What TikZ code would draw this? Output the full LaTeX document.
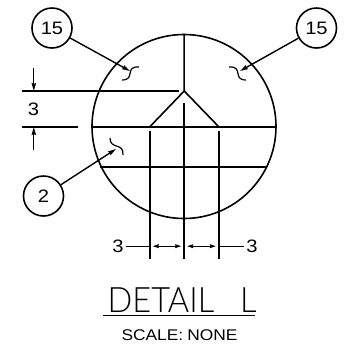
\documentclass[tikz,border=0pt]{standalone}
\usepackage{fontspec}
\setmainfont{Liberation Sans}[FakeStretch=1.12]
\newfontfamily\thinfont{Lato Light}[FakeStretch=0.93]
\usetikzlibrary{arrows.meta}
\tikzset{
  ln/.style={line width=1.6pt,line cap=butt},
  arr/.style={line width=1.4pt,-{Stealth[length=8pt,width=4.4pt,inset=1pt]}},
  arrs/.style={line width=1pt,{Stealth[length=6pt,width=3.8pt,inset=0.5pt]}-{Stealth[length=6pt,width=3.8pt,inset=0.5pt]},shorten <=3pt,shorten >=3pt},
  balloon/.style={circle,draw,line width=1.6pt,minimum size=40pt,inner sep=0pt,font=\fontsize{18}{18}\selectfont},
  dimtxt/.style={inner sep=0pt,font=\fontsize{18}{18}\selectfont},
  squig/.style={line width=1.2pt}
}
\begin{document}
\begin{tikzpicture}[x=1pt,y=-1pt]
\useasboundingbox (0,0) rectangle (360,360);
\node[circle,draw,ln,minimum size=184pt,inner sep=0pt] (ring) at (184,126.5) {};
% coordinates
\coordinate (apex) at (184.2,91);
\coordinate (wl) at (149.8,126.8);
\coordinate (wr) at (218.8,126.8);
\coordinate (top) at (184.2,34);
\coordinate (h1l) at (22,91.2);
\coordinate (h1r) at (179,91.2);
\coordinate (h2l) at (22,126.8);
\coordinate (h2m) at (78,126.8);
\coordinate (h2a) at (92,126.8);
\coordinate (h2b) at (276,126.8);
\coordinate (h3a) at (100,166.8);
\coordinate (h3b) at (267,166.8);
\coordinate (v1a) at (149.8,131);
\coordinate (v1b) at (149.8,259);
\coordinate (v2a) at (184.2,103);
\coordinate (v2b) at (184.2,259);
\coordinate (v3a) at (218.8,131);
\coordinate (v3b) at (218.8,259);
\draw[ln] (top) -- (apex) (wl) -- (apex) -- (wr);
\draw[ln] (h1l) -- (h1r);
\draw[ln] (h2l) -- (h2m) (h2a) -- (h2b) (h3a) -- (h3b);
\draw[ln] (v1a) -- (v1b) (v2a) -- (v2b) (v3a) -- (v3b);
% vertical dim
\coordinate (da) at (33.8,68);
\coordinate (db) at (33.8,91);
\coordinate (dc) at (33.8,150);
\coordinate (dd) at (33.8,127);
\draw[arr] (da) -- (db);
\draw[arr] (dc) -- (dd);
\node[dimtxt] (t3v) at (33.5,109) {3};
% horizontal dim
\node[dimtxt] (t3l) at (118,246) {3};
\node[dimtxt] (t3r) at (252,246) {3};
\coordinate (ha) at (149.8,246.2);
\coordinate (hb) at (184.2,246.2);
\coordinate (hc) at (218.8,246.2);
\draw[line width=1.2pt] ([xshift=2pt]t3l.east |- ha) -- (ha);
\draw[line width=1.2pt] (hc) -- ([xshift=-2pt]t3r.west |- hc);
\draw[arrs] (ha) -- (hb);
\draw[arrs] (hb) -- (hc);
% balloons
\node[balloon] (b1) at (52,28) {15};
\node[balloon] (b2) at (316.5,28) {15};
\node[balloon] (b3) at (43.5,196) {2};
\coordinate (t1) at (130,71);
\coordinate (t2) at (240,71);
\coordinate (t3) at (116,149);
\draw[arr] (b1) -- (t1);
\draw[arr] (b2) -- (t2);
\draw[arr] (b3) -- (t3);
% break marks
\draw[squig] (122,80) .. controls (136,80) and (124,66) .. (139,67);
\draw[squig] (246,80) .. controls (232,80) and (244,66) .. (229,67);
\draw[squig] (110,138) .. controls (110,150) and (124,142) .. (123,155);
% title
\node[inner sep=0pt,anchor=base west,font=\thinfont\fontsize{35}{35}\selectfont] (title) at (107.5,312) {DETAIL\hspace{26pt}L};
\coordinate (ula) at (103,315.5);
\coordinate (ulb) at (255,315.5);
\draw[ln] (ula) -- (ulb);
\node[inner sep=0pt,anchor=base,font=\fontsize{15.5}{15.5}\selectfont] (scale) at (179.5,340) {SCALE:\hspace{4pt}NONE};
\end{tikzpicture}
\end{document}
